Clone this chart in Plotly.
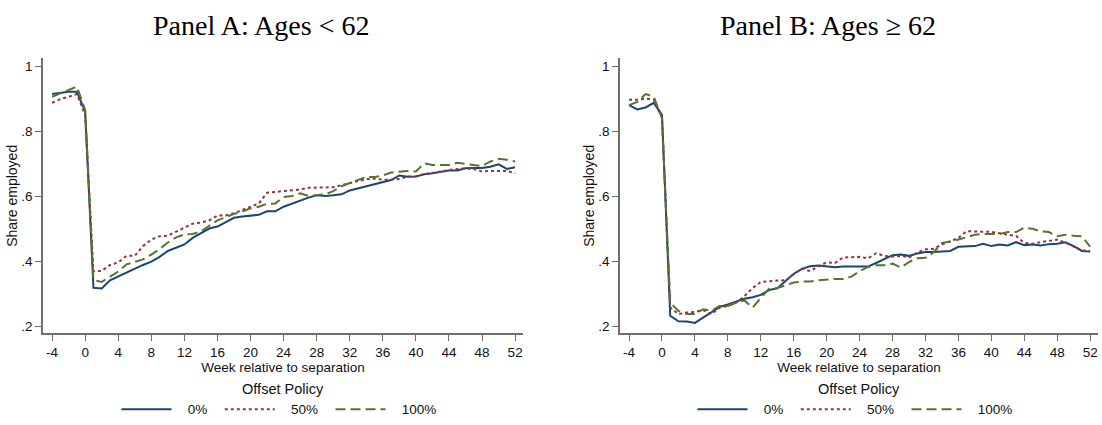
import plotly.graph_objects as go

weeks = [-4, -3, -2, -1, 0, 1, 2, 3, 4, 5, 6, 7, 8, 9, 10, 11, 12, 13, 14, 15, 16, 17, 18, 19, 20,
         21, 22, 23, 24, 25, 26, 27, 28, 29, 30, 31, 32, 33, 34, 35, 36, 37, 38, 39, 40,
         41, 42, 43, 44, 45, 46, 47, 48, 49, 50, 51, 52]

# Panel A: Ages < 62
a_0 = [.914, .917, .921, .921, .860, .319, .317, .342, .354, .367, .377, .389, .399, .414, .432, .442,
       .452, .472, .487, .501, .507, .521, .534, .538, .541, .543, .554, .554, .568, .578, .588, .596,
       .603, .601, .603, .606, .618, .624, .631, .638, .644, .650, .664, .660, .661, .668, .671, .674,
       .679, .679, .686, .687, .687, .691, .698, .684, .689]
a_50 = [.887, .899, .906, .914, .850, .369, .371, .389, .397, .417, .417, .447, .467, .477, .479, .492,
        .504, .516, .519, .526, .541, .541, .548, .558, .566, .578, .611, .613, .616, .619, .621, .626,
        .626, .626, .628, .634, .641, .646, .653, .654, .651, .651, .653, .661, .661, .668, .671, .676,
        .681, .683, .686, .684, .676, .678, .679, .678, .671]
a_100 = [.906, .916, .926, .937, .865, .342, .337, .352, .369, .391, .399, .406, .421, .438, .458, .474,
         .483, .484, .492, .510, .526, .536, .546, .553, .563, .568, .577, .578, .598, .601, .609, .601,
         .604, .606, .616, .631, .641, .651, .659, .659, .664, .673, .676, .678, .676, .701, .696, .696,
         .696, .703, .699, .696, .693, .707, .715, .712, .707]

# Panel B: Ages >= 62
b_0 = [.880, .867, .873, .887, .850, .233, .216, .215, .211, .228, .243, .260, .268, .276, .285, .290,
       .297, .312, .317, .340, .362, .377, .385, .387, .384, .382, .384, .384, .385, .384, .395, .407,
       .419, .421, .417, .424, .429, .429, .430, .432, .445, .445, .447, .454, .447, .452, .449, .459,
       .450, .452, .449, .453, .454, .459, .447, .432, .430]
b_50 = [.897, .897, .900, .897, .840, .258, .238, .243, .245, .250, .238, .258, .263, .273, .293, .318,
        .337, .340, .341, .342, .360, .378, .370, .385, .397, .395, .412, .414, .414, .409, .425, .417,
        .415, .417, .412, .427, .437, .439, .452, .462, .472, .493, .491, .491, .491, .486, .481, .478,
        .457, .454, .459, .462, .467, .457, .445, .434, .432]
b_100 = [.880, .890, .914, .906, .840, .273, .248, .238, .238, .253, .248, .263, .263, .273, .280, .258,
         .288, .316, .318, .326, .335, .338, .338, .342, .345, .346, .346, .353, .370, .383, .388, .388,
         .393, .381, .398, .410, .411, .428, .457, .460, .467, .474, .482, .484, .484, .484, .490, .490,
         .504, .500, .492, .490, .477, .482, .479, .477, .445]

series_names = ["0%", "50%", "100%"]
colors = ["#1a476f", "#90353b", "#55752f"]
dashes = ["solid", "3px,3px", "10px,5px"]

x_ticks = [-4, 0, 4, 8, 12, 16, 20, 24, 28, 32, 36, 40, 44, 48, 52]
x_tick_text = ["-4", "0", "4", "8", "12", "16", "20", "24", "28", "32", "36", "40", "44", "48", "52"]
y_ticks = [0.2, 0.4, 0.6, 0.8, 1.0]
y_tick_text = [".2", ".4", ".6", ".8", "1"]

W, H = 1102, 425
NB = "\u00a0"
fig = go.Figure()

panels = [
    (["x", "y"], [a_0, a_50, a_100], "legend"),
    (["x2", "y2"], [b_0, b_50, b_100], "legend2"),
]
for (xa, ya), data, leg in panels:
    for name, vals, c, d in zip(series_names, data, colors, dashes):
        fig.add_trace(go.Scatter(
            x=weeks, y=vals, mode="lines", name=NB * 3 + name + NB * 2,
            xaxis=xa, yaxis=ya, line=dict(color=c, width=2, dash=d), legend=leg,
        ))

axis_font = dict(family="Liberation Sans, Arial, sans-serif", size=13.5, color="#111111")
common_x = dict(
    range=[-5.1, 52.95], tickmode="array", tickvals=x_ticks, ticktext=x_tick_text,
    showgrid=False, zeroline=False,
    showline=True, linecolor="#6e6e6e", linewidth=1.5, ticks="outside", ticklen=6,
    tickcolor="#6e6e6e", tickwidth=1.2, tickfont=axis_font,
    title=dict(text="Week relative to separation", font=axis_font, standoff=2),
)
common_y = dict(
    range=[0.179, 1.024], tickmode="array", tickvals=y_ticks, ticktext=y_tick_text,
    showgrid=False, zeroline=False, showline=True, linecolor="#6e6e6e", linewidth=1.5,
    ticks="outside", ticklen=6, tickcolor="#6e6e6e", tickwidth=1.2, tickfont=axis_font,
    title=dict(text="Share employed", font=dict(axis_font, size=14), standoff=0),
)

xa_dom = [43 / W, 523 / W]
xb_dom = [620 / W, 1098 / W]
y_dom = [1 - 343 / H, 1 - 60 / H]

leg_common = dict(
    orientation="h", xanchor="center", yanchor="top", y=1 - 386 / H,
    font=dict(family="Liberation Sans, Arial, sans-serif", size=13.5, color="#111111"),
    title=dict(text="Offset Policy", side="top center",
               font=dict(family="Liberation Sans, Arial, sans-serif", size=14.5, color="#111111")),
    itemwidth=50, bgcolor="rgba(0,0,0,0)", traceorder="normal",
)

title_font = dict(family="Liberation Serif, DejaVu Serif, serif", size=28, color="#000000")
fig.update_layout(
    width=W, height=H, margin=dict(l=0, r=0, t=0, b=0),
    paper_bgcolor="white", plot_bgcolor="white", showlegend=True,
    xaxis=dict(domain=xa_dom, anchor="y", **common_x),
    yaxis=dict(domain=y_dom, anchor="x", **common_y),
    xaxis2=dict(domain=xb_dom, anchor="y2", **common_x),
    yaxis2=dict(domain=y_dom, anchor="x2", **common_y),
    legend=dict(x=(43 + 523) / 2 / W, **leg_common),
    legend2=dict(x=(620 + 1098) / 2 / W, **leg_common),
    annotations=[
        dict(text="Panel A: Ages &lt; 62", x=261 / W, y=1 - 26 / H, xref="paper", yref="paper",
             showarrow=False, xanchor="center", yanchor="middle", font=title_font),
        dict(text="Panel B: Ages ≥ 62", x=828 / W, y=1 - 26 / H, xref="paper", yref="paper",
             showarrow=False, xanchor="center", yanchor="middle", font=title_font),
    ],
)

fig.write_html("out.html")
